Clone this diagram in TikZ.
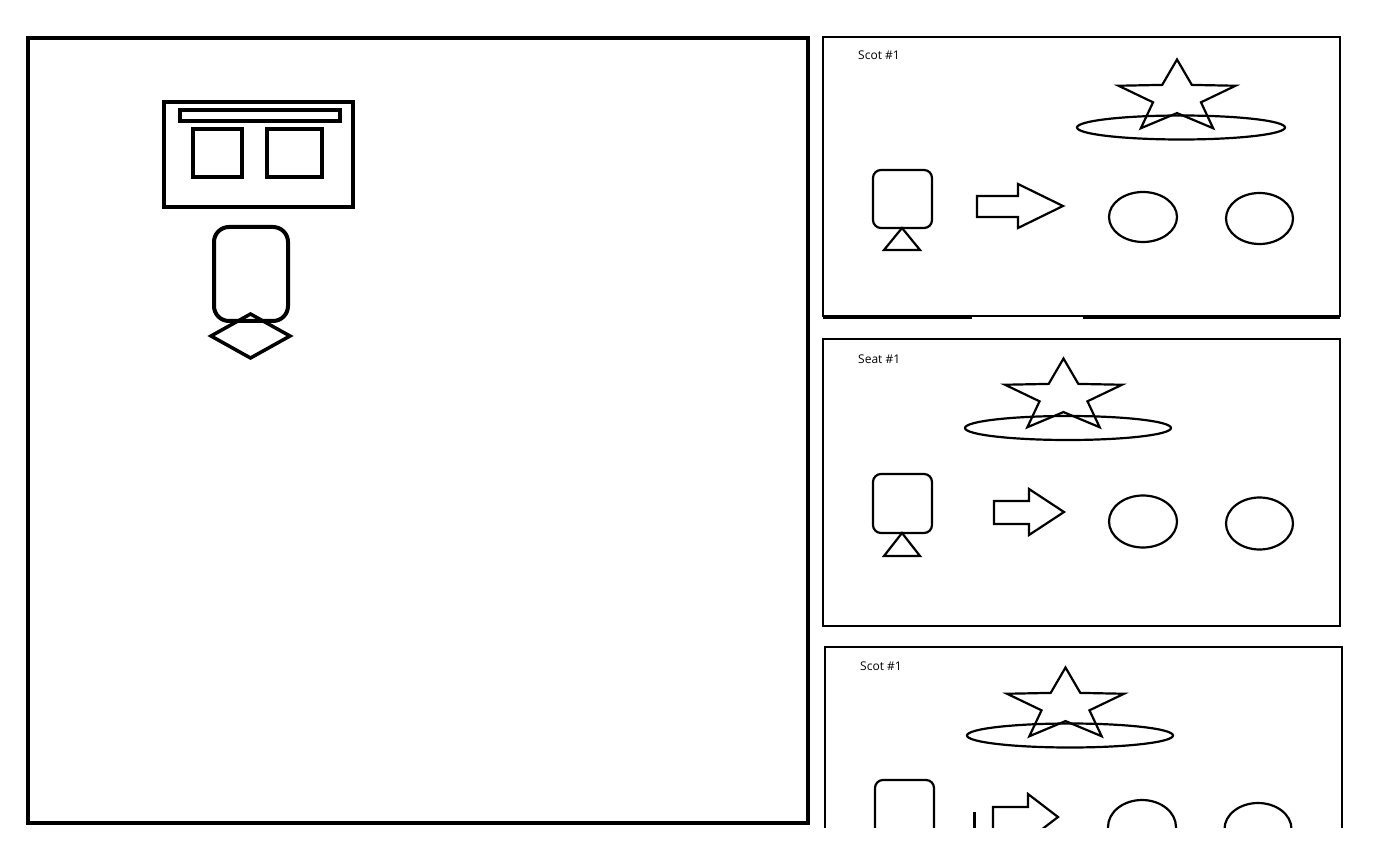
\documentclass[tikz,border=0pt]{standalone}
\usepackage{fontspec}
\newfontfamily\capfont{Open Sans}
\tikzset{
  frame/.style={draw=black, line width=4pt},
  panel/.style={draw=black, line width=2.2pt},
  sketch/.style={draw=black, line width=2.2pt},
  caption/.style={font=\capfont\fontsize{12}{14}\selectfont, inner sep=0pt, anchor=base west},
  flatstar/.pic={
    \draw[sketch] plot[samples at={0,...,9}, variable=\k]
      ({61.5*(mod(\k,2)==0 ? 1 : 0.41)*cos(90+36*\k)},
       {-38*(mod(\k,2)==0 ? 1 : 0.41)*sin(90+36*\k)}) -- cycle;
  }
}

\begin{document}
\begin{tikzpicture}[x=1pt, y=-1pt]
  \useasboundingbox (0,0) rectangle (1400,858);

  % main frame
  \draw[frame] (28,38) rectangle (808,823);
  \draw[frame] (164,102) rectangle (353,207);
  \draw[frame] (180,110) rectangle (340,121);
  \draw[frame] (193,129) rectangle (242,177);
  \draw[frame] (267,129) rectangle (322,177);
  \draw[frame, rounded corners=15pt] (214,227) rectangle (288,321);
  \draw[draw=black, line width=3.5pt] (250.5,314) -- (290,336) -- (250.5,358) -- (211,336) -- cycle;

  % panel 1
  \draw[panel] (823,37) rectangle (1340,316);
  \draw[line width=4pt] (823,317) -- (972,317);
  \draw[line width=4pt] (1083,317) -- (1340,317);
  \node[caption] (cap1) at (858,60) {Scot \#1};
  \draw[sketch] (1181,127.5) ellipse [x radius=104, y radius=12];
  \pic at (1177,97.5) {flatstar};
  \draw[sketch, rounded corners=8pt] (873,170) rectangle (932,228);
  \draw[sketch] (902,228) -- (920,250) -- (884,250) -- cycle;
  \draw[sketch] (977,196) -- (1018,196) -- (1018,184) -- (1063,206) -- (1018,228) -- (1018,217) -- (977,217) -- cycle;
  \draw[sketch] (1143,217) ellipse [x radius=34, y radius=25];
  \draw[sketch] (1259.5,218.5) ellipse [x radius=33.5, y radius=25.5];

  % panel 2
  \draw[panel] (823,339) rectangle (1340,626);
  \node[caption] (cap2) at (858,363) {Seat \#1};
  \draw[sketch] (1068,428) ellipse [x radius=103, y radius=12];
  \pic at (1063.5,396.5) {flatstar};
  \draw[sketch, rounded corners=8pt] (873,474) rectangle (932,533);
  \draw[sketch] (902,533) -- (920,556) -- (884,556) -- cycle;
  \draw[sketch] (994,501) -- (1029,501) -- (1029,489) -- (1064,512) -- (1029,535) -- (1029,524) -- (994,524) -- cycle;
  \draw[sketch] (1143,521.5) ellipse [x radius=34, y radius=26];
  \draw[sketch] (1259.5,523.5) ellipse [x radius=33.5, y radius=26];

  % panel 3 (cut off at the bottom)
  \begin{scope}
    \clip (815,640) rectangle (1400,827);
    \draw[panel] (825,647) rectangle (1342,940);
    \node[caption] (cap3) at (860,670) {Scot \#1};
    \draw[sketch] (1070,735.5) ellipse [x radius=103, y radius=12];
    \pic at (1065.5,705.5) {flatstar};
    \draw[sketch, rounded corners=8pt] (875,780) rectangle (934,840);
    \draw[line width=3pt] (974,812) -- (974,830);
    \draw[sketch] (993,807) -- (1028,807) -- (1028,794) -- (1058,817) -- (1028,840) -- (1028,830) -- (993,830) -- cycle;
    \draw[sketch] (1142,827) ellipse [x radius=34, y radius=27];
    \draw[sketch] (1258,829) ellipse [x radius=33.5, y radius=26];
  \end{scope}
\end{tikzpicture}
\end{document}
